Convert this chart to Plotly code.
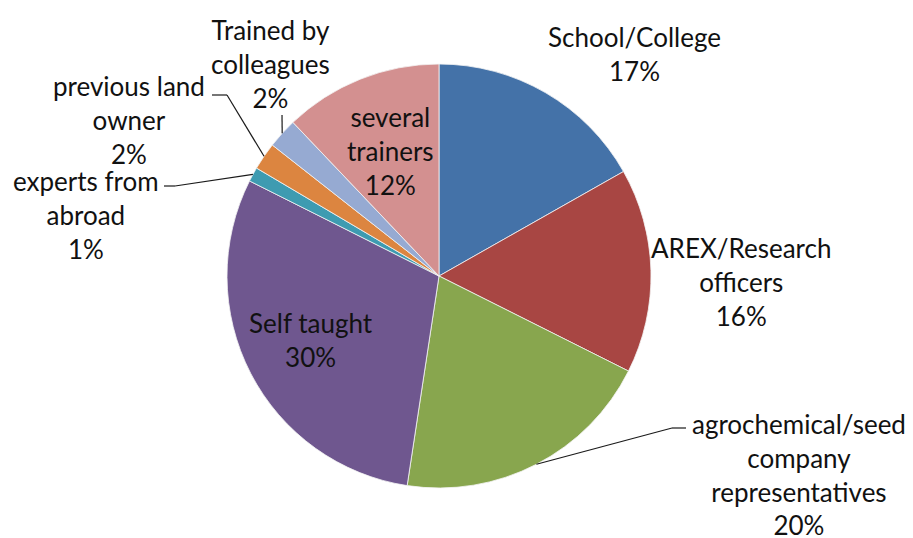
import math
import plotly.graph_objects as go

# sources of training, share of farmers (%), clockwise from 12 o'clock
labels = ["School/College", "AREX/Research officers",
          "agrochemical/seed company representatives", "Self taught",
          "experts from abroad", "previous land owner",
          "Trained by colleagues", "several trainers"]
values = [16.8, 15.6, 20.0, 30.0, 1.1, 2.1, 2.3, 12.1]
label_lines = [["School/College"], ["AREX/Research", "officers"],
               ["agrochemical/seed", "company", "representatives"],
               ["Self taught"], ["experts from", "abroad"],
               ["previous land", "owner"], ["Trained by", "colleagues"],
               ["several", "trainers"]]
colors = ["#4472A8", "#A84643", "#88A64E", "#6F578F",
          "#3E9BB1", "#DC8540", "#96AAD2", "#D39090"]

# page body has an 8px margin, so the figure starts at (8, 8) in the window
OFF = 8
W, H = 913 - OFF, 538 - OFF
CX, CY, R = 439, 276, 212

# label centres (window pixels) and leader elbows (None = no leader)
label_pos = [(634, 54), (741, 282), (799, 474), (311, 340),
             (86, 215), (129, 120), (270, 64), (390, 151)]
elbows = [None, None, [(672, 428), (686, 428)], None,
          [(175, 186), (164, 186)], [(227, 95), (212, 95)],
          [(282, 115)], None]


def px(x, y):
    return (x - OFF) / W, 1 - (y - OFF) / H


(dx0, dy1), (dx1, dy0) = px(CX - R, CY - R), px(CX + R, CY + R)

fig = go.Figure(go.Pie(
    labels=labels, values=values, sort=False, direction="clockwise",
    rotation=0, textinfo="none", hoverinfo="label+percent",
    marker=dict(colors=colors, line=dict(color="#f4f4f4", width=0.8)),
    domain=dict(x=[dx0, dx1], y=[dy0, dy1]),
    showlegend=False,
))

total = sum(values)
cum = 0
for i, v in enumerate(values):
    pct = round(v / total * 100)
    text = "<br>".join(label_lines[i] + [f"{pct}%"])
    lx, ly = px(*label_pos[i])
    fig.add_annotation(text=text, x=lx, y=ly, xref="paper", yref="paper",
                       xanchor="center", yanchor="middle", showarrow=False,
                       align="center")
    mid = (cum + v / 2) / total * 2 * math.pi
    if elbows[i]:
        pts = [(CX + R * math.sin(mid), CY - R * math.cos(mid))] + elbows[i]
        for (x0, y0), (x1, y1) in zip(pts[:-1], pts[1:]):
            a0, b0 = px(x0, y0)
            a1, b1 = px(x1, y1)
            fig.add_shape(type="line", x0=a0, y0=b0, x1=a1, y1=b1,
                          xref="paper", yref="paper",
                          line=dict(color="#1a1a1a", width=1.2))
    cum += v

fig.update_layout(
    width=W, height=H, margin=dict(l=0, r=0, t=0, b=0),
    paper_bgcolor="white", plot_bgcolor="white",
    font=dict(family="Lato", size=26, color="#111111"),
)

fig.write_html("out.html")
